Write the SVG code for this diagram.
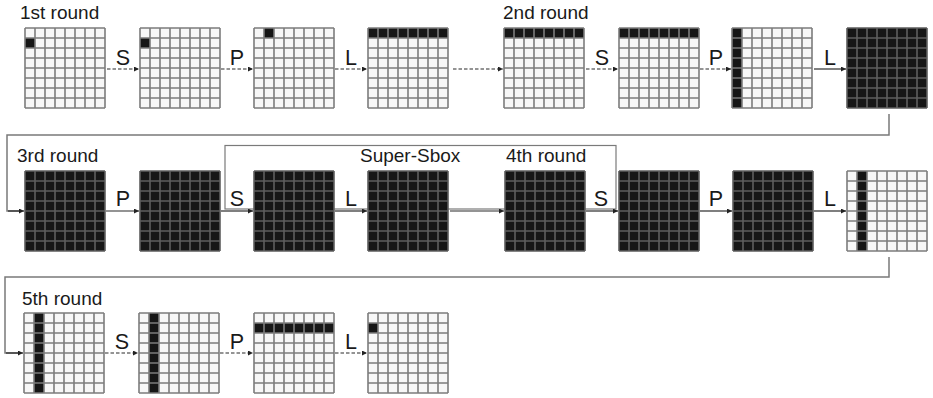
<svg xmlns="http://www.w3.org/2000/svg" xmlns:xlink="http://www.w3.org/1999/xlink" width="933" height="398" viewBox="0 0 933 398">
<style>
.t{font-family:"Liberation Sans",Arial,sans-serif;font-size:19px;fill:#1a1a1a}
.lb{font-family:"Liberation Sans",Arial,sans-serif;font-size:21.5px;fill:#1a1a1a;text-anchor:middle}
.blk{fill:#161616}
.ds{stroke:#2a2a2a;stroke-width:1.2;stroke-dasharray:3.5 2;fill:none}
.sl{stroke:#2a2a2a;stroke-width:1.2;fill:none}
.rt{stroke:#7a7a7a;stroke-width:1.5;fill:none}
.box{stroke:#7a7a7a;stroke-width:1.2;fill:none}
</style>
<defs>
<marker id="ah" viewBox="0 0 6 6" refX="6" refY="3" markerWidth="6" markerHeight="5" markerUnits="userSpaceOnUse" orient="auto"><path d="M0 0L6 3L0 6z" fill="#222"/></marker>
<rect id="bgw" width="80" height="80" fill="#f7f7f7"/>
<rect id="bgb" width="80" height="80" fill="#161616"/>
<path id="gl" d="M0 0V80M10 0V80M20 0V80M30 0V80M40 0V80M50 0V80M60 0V80M70 0V80M80 0V80M0 0H80M0 10H80M0 20H80M0 30H80M0 40H80M0 50H80M0 60H80M0 70H80M0 80H80" stroke="#7c7c7c" stroke-width="1.6" fill="none"/>
<path id="glb" d="M0 0V80M10 0V80M20 0V80M30 0V80M40 0V80M50 0V80M60 0V80M70 0V80M80 0V80M0 0H80M0 10H80M0 20H80M0 30H80M0 40H80M0 50H80M0 60H80M0 70H80M0 80H80" stroke="#5e5e5e" stroke-width="1.6" fill="none"/>
</defs>
<rect width="933" height="398" fill="#ffffff"/>

<g id="superbox"><rect class="box" x="225" y="145.5" width="391" height="63.5"/></g>

<g id="labels">
<text class="t" x="20" y="19">1st round</text>
<text class="t" x="503" y="19">2nd round</text>
<text class="t" x="17" y="162">3rd round</text>
<text class="t" x="360" y="162">Super-Sbox</text>
<text class="t" x="506" y="162">4th round</text>
<text class="t" x="22" y="305">5th round</text>
</g>

<!-- Row 1 -->
<g id="r1g1" transform="translate(25,28)"><use href="#bgw"/><rect class="blk" x="0" y="10" width="10" height="10"/><use href="#gl"/></g>
<g id="r1g2" transform="translate(140,28)"><use href="#bgw"/><rect class="blk" x="0" y="10" width="10" height="10"/><use href="#gl"/></g>
<g id="r1g3" transform="translate(254,28)"><use href="#bgw"/><rect class="blk" x="10" y="0" width="10" height="10"/><use href="#gl"/></g>
<g id="r1g4" transform="translate(368,28)"><use href="#bgw"/><rect class="blk" x="0" y="0" width="80" height="10"/><use href="#gl"/></g>
<g id="r1g5" transform="translate(504,28)"><use href="#bgw"/><rect class="blk" x="0" y="0" width="80" height="10"/><use href="#gl"/></g>
<g id="r1g6" transform="translate(619,28)"><use href="#bgw"/><rect class="blk" x="0" y="0" width="80" height="10"/><use href="#gl"/></g>
<g id="r1g7" transform="translate(732,28)"><use href="#bgw"/><rect class="blk" x="0" y="0" width="10" height="80"/><use href="#gl"/></g>
<g id="r1g8" transform="translate(847,28)"><use href="#bgb"/><use href="#glb"/></g>

<!-- Row 2 -->
<g id="r2g1" transform="translate(25,171)"><use href="#bgb"/><use href="#glb"/></g>
<g id="r2g2" transform="translate(140,171)"><use href="#bgb"/><use href="#glb"/></g>
<g id="r2g3" transform="translate(254,171)"><use href="#bgb"/><use href="#glb"/></g>
<g id="r2g4" transform="translate(368,171)"><use href="#bgb"/><use href="#glb"/></g>
<g id="r2g5" transform="translate(505,171)"><use href="#bgb"/><use href="#glb"/></g>
<g id="r2g6" transform="translate(619,171)"><use href="#bgb"/><use href="#glb"/></g>
<g id="r2g7" transform="translate(733,171)"><use href="#bgb"/><use href="#glb"/></g>
<g id="r2g8" transform="translate(847,171)"><use href="#bgw"/><rect class="blk" x="10" y="0" width="10" height="80"/><use href="#gl"/></g>

<!-- Row 3 -->
<g id="r3g1" transform="translate(24,313)"><use href="#bgw"/><rect class="blk" x="10" y="0" width="10" height="80"/><use href="#gl"/></g>
<g id="r3g2" transform="translate(139,313)"><use href="#bgw"/><rect class="blk" x="10" y="0" width="10" height="80"/><use href="#gl"/></g>
<g id="r3g3" transform="translate(254,313)"><use href="#bgw"/><rect class="blk" x="0" y="10" width="80" height="10"/><use href="#gl"/></g>
<g id="r3g4" transform="translate(368,313)"><use href="#bgw"/><rect class="blk" x="0" y="10" width="10" height="10"/><use href="#gl"/></g>

<g id="connectors">
<!-- row 1 -->
<line class="ds" x1="107" y1="69" x2="139" y2="69" marker-end="url(#ah)"/>
<line class="ds" x1="221" y1="69" x2="253" y2="69" marker-end="url(#ah)"/>
<line class="ds" x1="335" y1="69" x2="367" y2="69" marker-end="url(#ah)"/>
<line class="ds" x1="453" y1="69" x2="503" y2="69" marker-end="url(#ah)"/>
<line class="ds" x1="586" y1="69" x2="618" y2="69" marker-end="url(#ah)"/>
<line class="ds" x1="700" y1="69" x2="731" y2="69" marker-end="url(#ah)"/>
<line class="sl" x1="814" y1="69" x2="846" y2="69" marker-end="url(#ah)"/>
<path class="rt" d="M889 114V135H7V211H22"/>
<line class="sl" x1="8" y1="211" x2="24" y2="211" marker-end="url(#ah)"/>
<!-- row 2 -->
<line class="sl" x1="106" y1="211" x2="139" y2="211" marker-end="url(#ah)"/>
<line class="sl" x1="221" y1="211" x2="253" y2="211" marker-end="url(#ah)"/>
<line class="sl" x1="335" y1="211" x2="367" y2="211" marker-end="url(#ah)"/>
<line class="sl" x1="450" y1="211" x2="504" y2="211" marker-end="url(#ah)"/>
<line class="sl" x1="586" y1="211" x2="618" y2="211" marker-end="url(#ah)"/>
<line class="sl" x1="700" y1="211" x2="732" y2="211" marker-end="url(#ah)"/>
<line class="sl" x1="814" y1="211" x2="846" y2="211" marker-end="url(#ah)"/>
<path class="rt" d="M889 257V277H5V353H20"/>
<line class="sl" x1="6" y1="353" x2="23" y2="353" marker-end="url(#ah)"/>
<!-- row 3 -->
<line class="ds" x1="105" y1="353" x2="138" y2="353" marker-end="url(#ah)"/>
<line class="ds" x1="220" y1="353" x2="253" y2="353" marker-end="url(#ah)"/>
<line class="ds" x1="335" y1="353" x2="367" y2="353" marker-end="url(#ah)"/>
</g>

<g id="op-labels">
<text class="lb" x="123" y="65">S</text>
<text class="lb" x="237" y="65">P</text>
<text class="lb" x="351" y="65">L</text>
<text class="lb" x="602" y="65">S</text>
<text class="lb" x="716" y="65">P</text>
<text class="lb" x="830" y="65">L</text>
<text class="lb" x="123" y="206">P</text>
<text class="lb" x="237" y="206">S</text>
<text class="lb" x="351" y="206">L</text>
<text class="lb" x="601" y="206">S</text>
<text class="lb" x="716" y="206">P</text>
<text class="lb" x="830" y="206">L</text>
<text class="lb" x="122" y="349">S</text>
<text class="lb" x="237" y="349">P</text>
<text class="lb" x="351" y="349">L</text>
</g>
</svg>
